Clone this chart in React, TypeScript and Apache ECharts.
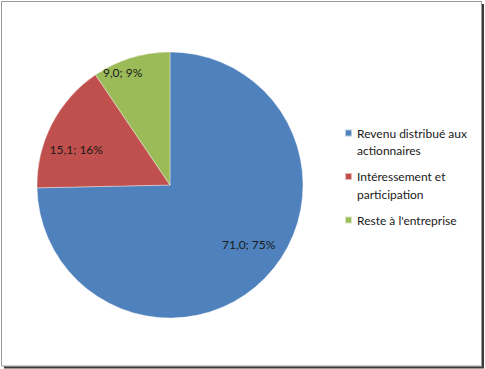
import React, { useEffect, useRef } from "react";
import * as echarts from "echarts";

const categories = ["Revenu distribué aux actionnaires", "Intéressement et participation", "Reste à l'entreprise"];
const legendLines = [["Revenu distribué aux", "actionnaires"], ["Intéressement et", "participation"], ["Reste à l'entreprise"]];
const values = [71.0, 15.1, 9.0];
const percents = [75, 16, 9];
const colors = ["#4f81bd", "#c0504d", "#9bbb59"];
const labelOffsets = [[29, 11], [-32, -4], [-27, -46]];

export default function App() {
  const ref = useRef<HTMLDivElement>(null);
  useEffect(() => {
    if (!ref.current) return;
    const chart = echarts.init(ref.current, null, { renderer: "svg" });
    const font = "Lato";
    const LH = 17.5;
    chart.setOption({
      animation: false,
      backgroundColor: "#ffffff",
      legend: {
        orient: "vertical",
        left: 344,
        top: 127,
        padding: 0,
        itemWidth: 7,
        itemHeight: 7,
        itemGap: 14,
        icon: "rect",
        formatter: (name: string) =>
          legendLines[categories.indexOf(name)].map((l) => `{a|${l}}`).join("\n"),
        textStyle: {
          fontFamily: font,
          fontSize: 12,
          color: "#1a1a1a",
          rich: { a: { fontFamily: font, fontSize: 12, color: "#1a1a1a", lineHeight: LH } },
        },
        data: categories.map((c, i) => ({
          name: c,
          textStyle: legendLines[i].length > 1 ? { padding: [LH * (legendLines[i].length - 1), 0, 0, 0] } : {},
        })),
      },
      series: [
        {
          type: "pie",
          center: [170, 185],
          radius: [0, 133],
          startAngle: 90,
          clockwise: true,
          avoidLabelOverlap: false,
          itemStyle: { borderColor: "rgba(255,255,255,0.6)", borderWidth: 0.6 },
          label: {
            position: "inside",
            fontFamily: font,
            fontSize: 12,
            color: "#1a1a1a",
            formatter: (p: any) => `${values[p.dataIndex].toFixed(1).replace(".", ",")}; ${percents[p.dataIndex]}%`,
          },
          labelLine: { show: false },
          emphasis: { disabled: true },
          data: categories.map((c, i) => ({
            name: c,
            value: values[i],
            itemStyle: { color: colors[i] },
            label: { offset: labelOffsets[i] },
          })),
        },
      ],
      graphic: [
        { type: "rect", silent: true, shape: { x: 1.5, y: 1.5, width: 480, height: 364.5 }, style: { fill: "none", stroke: "#9a9a9a", lineWidth: 1 } },
        { type: "line", silent: true, shape: { x1: 483, y1: 4, x2: 483, y2: 368 }, style: { stroke: "#3a3a3a", lineWidth: 2 } },
        { type: "line", silent: true, shape: { x1: 4, y1: 367.5, x2: 484, y2: 367.5 }, style: { stroke: "#3a3a3a", lineWidth: 2 } },
      ],
    });
    return () => chart.dispose();
  }, []);
  return <div ref={ref} style={{ position: "fixed", left: 0, top: 0, width: 485, height: 369 }} />;
}
